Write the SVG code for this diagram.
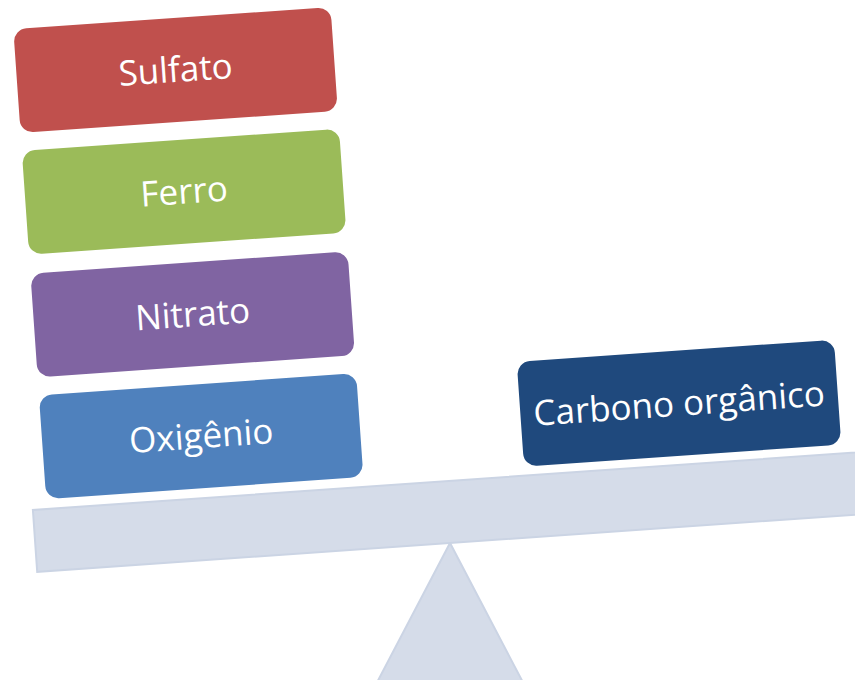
<svg xmlns="http://www.w3.org/2000/svg" width="855" height="680" viewBox="0 0 855 680">
  <style>
    .box { stroke: none; }
    .lbl { font-family: "Open Sans", "Liberation Sans", sans-serif; font-size: 35px; fill: #ffffff; text-anchor: middle; }
    .scale { fill: #d5dce9; stroke: #cbd4e4; stroke-width: 2; }
  </style>
  <rect width="855" height="680" fill="#ffffff"/>
  <g id="fulcrum">
    <polygon class="scale" points="450,543 372,692 528,692"/>
  </g>
  <g transform="rotate(-4 450 540)">
    <g id="beam">
      <rect class="scale" x="36" y="481" width="920" height="62"/>
    </g>
    <g id="sulfato">
      <rect class="box" x="50" y="0" width="318" height="104" rx="13" fill="#c0504d"/>
      <text class="lbl" x="209" y="64">Sulfato</text>
    </g>
    <g id="ferro">
      <rect class="box" x="50" y="122" width="318" height="104" rx="13" fill="#9bbb59"/>
      <text class="lbl" x="209" y="186">Ferro</text>
    </g>
    <g id="nitrato">
      <rect class="box" x="50" y="245" width="318" height="104" rx="13" fill="#8064a2"/>
      <text class="lbl" x="209" y="309">Nitrato</text>
    </g>
    <g id="oxigenio">
      <rect class="box" x="50" y="367" width="318" height="104" rx="13" fill="#4f81bd"/>
      <text class="lbl" x="209" y="431">Oxigênio</text>
    </g>
    <g id="carbono">
      <rect class="box" x="529" y="367" width="318" height="105" rx="13" fill="#1f497d"/>
      <text class="lbl" x="688" y="432">Carbono orgânico</text>
    </g>
  </g>
  <g id="connectors"/>
</svg>
